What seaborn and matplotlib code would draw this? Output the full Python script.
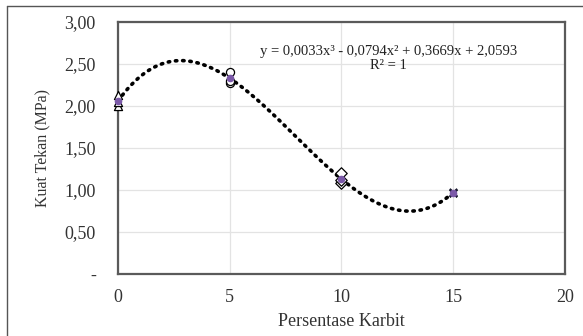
import numpy as np
import pandas as pd
import matplotlib
matplotlib.use("Agg")
import matplotlib.pyplot as plt
import seaborn as sns
from matplotlib.ticker import FuncFormatter

# data
karbit = [0, 0, 0, 5, 5, 5, 10, 10, 10, 15, 15, 15]
kuat = [2.00, 2.05, 2.13, 2.27, 2.30, 2.40, 1.08, 1.12, 1.20, 0.96, 0.97, 0.98]
rata_x = [0, 5, 10, 15]
rata_y = [2.06, 2.33, 1.13, 0.97]
penanda = ['^', 'o', 'D', 'X']

sns.set_theme(style="white")
plt.rcParams['font.family'] = ['Liberation Serif', 'DejaVu Serif']

fig = plt.figure(figsize=(5.83, 3.36), dpi=100)
ax = fig.add_axes([0.2024, 0.1845, 0.7666, 0.75])

# border kiri/atas gambar
fig.add_artist(plt.Line2D([0.012, 0.012], [0, 0.982], color='#555555', lw=1, transform=fig.transFigure))
fig.add_artist(plt.Line2D([0.012, 1], [0.982, 0.982], color='#555555', lw=1, transform=fig.transFigure))

# trendline polinomial orde 3
koef = np.polyfit(rata_x, rata_y, 3)
xs = np.linspace(0, 15, 200)
tren = pd.DataFrame({'x': xs, 'y': np.polyval(koef, xs)})
sns.lineplot(data=tren, x='x', y='y', ax=ax, color='black', lw=2.6,
             linestyle=(0, (0.4, 1.6)))
ax.lines[-1].set_dash_capstyle('round')

df = pd.DataFrame({'x': karbit, 'y': kuat})
for i, gx in enumerate(rata_x):
    sub = df[df['x'] == gx]
    if penanda[i] == 'X':
        sns.scatterplot(data=sub, x='x', y='y', ax=ax, marker='x', color='#1a1a2e',
                        s=28, linewidth=1.4, zorder=3, clip_on=False)
    else:
        sns.scatterplot(data=sub, x='x', y='y', ax=ax, marker=penanda[i], facecolor='white',
                        edgecolor='black', s=34, linewidth=0.9, zorder=3, clip_on=False)
sns.scatterplot(x=rata_x, y=rata_y, ax=ax, color='#7b59a8', s=30, linewidth=0, zorder=4,
                clip_on=False)

ax.set_xlim(0, 20)
ax.set_ylim(0, 3)
ax.set_xticks([0, 5, 10, 15, 20])
ax.set_yticks(np.arange(0, 3.01, 0.5))
ax.yaxis.set_major_formatter(FuncFormatter(lambda v, p: '-' if abs(v) < 1e-9 else f"{v:.2f}".replace('.', ',')))
ax.grid(True, color='#e3e3e3', lw=0.9)
ax.set_axisbelow(True)
for s in ax.spines.values():
    s.set_color('#5a5a5a')
    s.set_linewidth(1.6)
ax.tick_params(axis='both', length=0, labelsize=13, colors='#333333')
ax.tick_params(axis='y', pad=16)
ax.tick_params(axis='x', pad=11)
ax.set_xlabel('Persentase Karbit', fontsize=13, color='#333333', labelpad=5)
ax.set_ylabel('Kuat Tekan (MPa)', fontsize=11.5, color='#333333', labelpad=10)

ax.text(0.606, 0.884, 'y = 0,0033x³ - 0,0794x² + 0,3669x + 2,0593', transform=ax.transAxes,
        ha='center', va='center', fontsize=10.5, color='#222222')
ax.text(0.606, 0.829, 'R² = 1', transform=ax.transAxes, ha='center', va='center',
        fontsize=10.5, color='#222222')

fig.savefig('out.png', dpi=100)
